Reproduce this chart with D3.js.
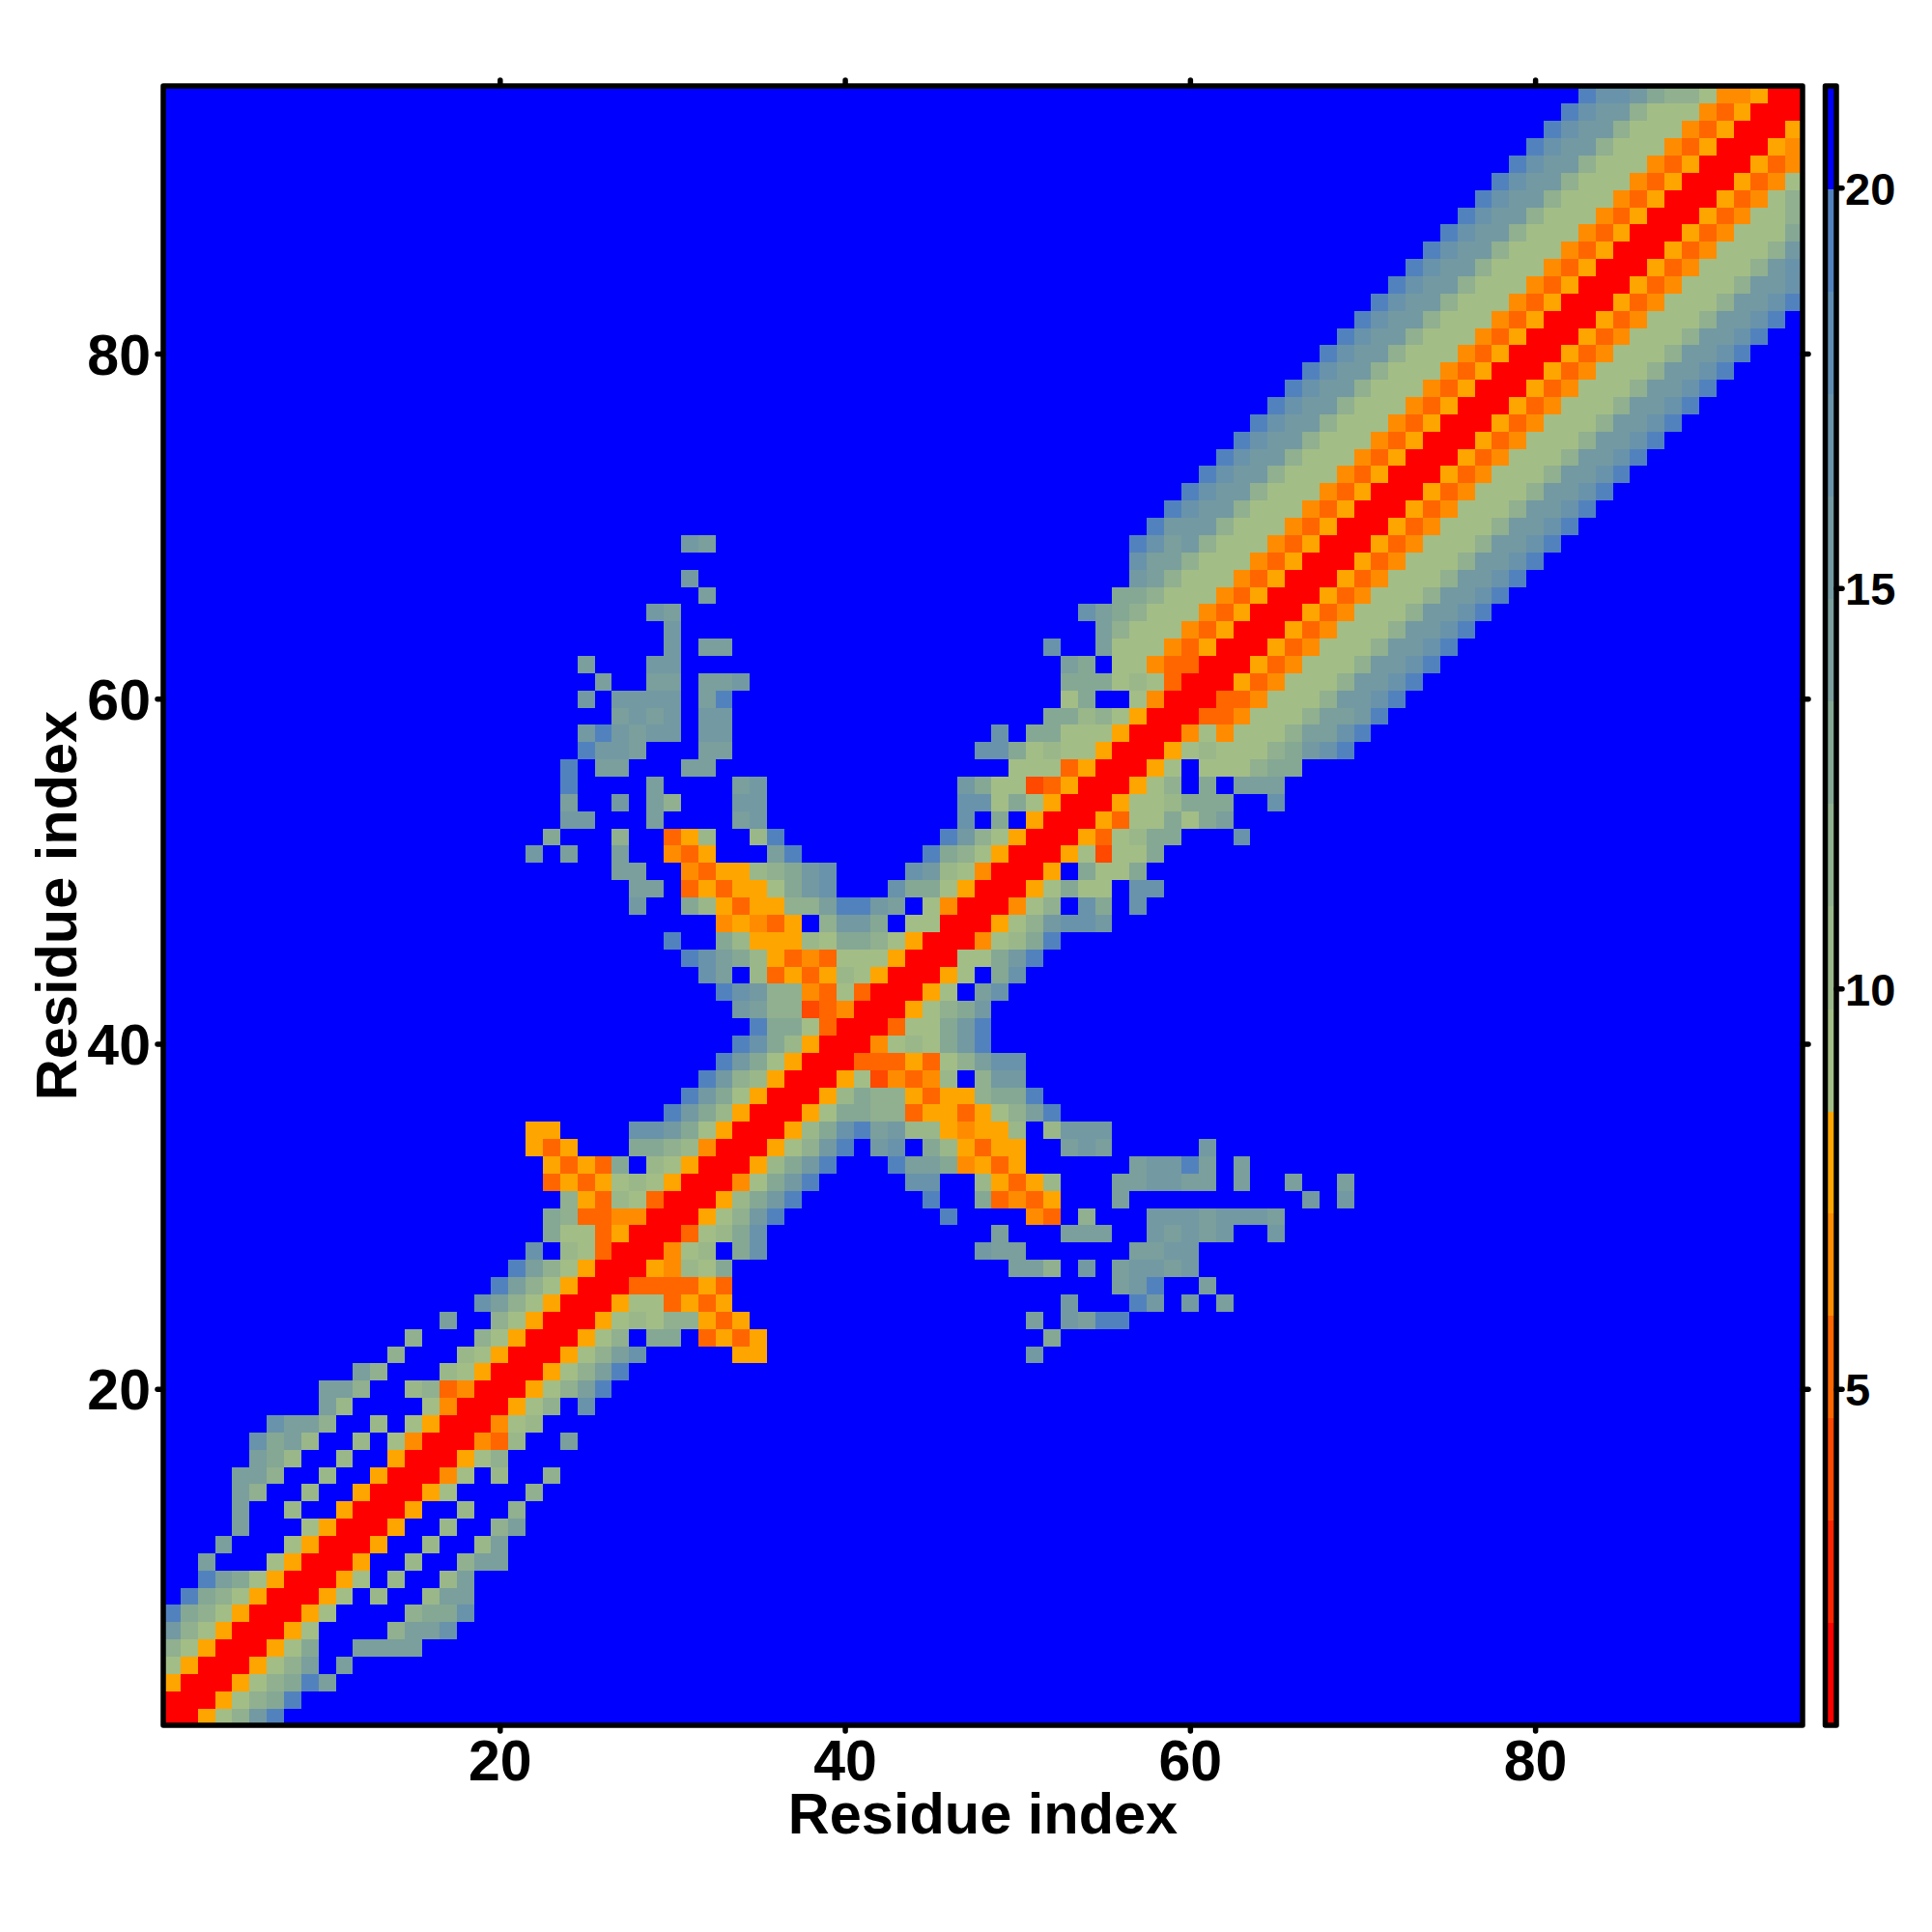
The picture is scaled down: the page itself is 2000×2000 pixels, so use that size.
<!DOCTYPE html>
<html>
<head>
<meta charset="utf-8">
<script src="https://cdn.jsdelivr.net/npm/d3@7"></script>
<style>html,body{margin:0;padding:0;background:#fff}svg{display:block}text{font-family:"Liberation Sans",Arial,sans-serif;font-weight:bold;fill:#000}</style>
</head>
<body>
<svg id="chart" width="2000" height="2000"></svg>
<script>
// Colour-bar classes (lower edge of each band, then the top)
const levelBreaks = [0.8,2.08,3.36,4.64,5.92,7.2,8.47,9.75,11.03,12.31,13.59,14.87,16.15,17.43,18.71,19.99,21.27];
const levelColors = ["#ff0000","#ff2400","#ff4800","#ff6600","#ff8c00","#ffa500",
  "#a3bd86","#9ab78a","#90b08f","#85a895","#7a9f9c","#7399a2","#6993aa","#5f8cb2","#5282be","#0000ff"];
// Distance value read for each class
const levelValues = [1.4,2.7,4,5.3,6.6,7.8,9.1,10.4,11.7,13,14.2,15.5,16.8,18.1,19.4,20.6];
const farValue = levelValues[15];
const residueCount = 95;
const xTicks = [20,40,60,80];
const barTicks = [5,10,15,20];
const axisTitle = "Residue index";

// One line per residue: "startColumn:classes" (hex class index, f = blue/no contact).
// Only the part right of the diagonal was read; the map is symmetric.
const rowReadings = [
"1:00568be","2:005689e","3:005689ea","4:00568afa","5:00569ffaaaa",
"6:0056ffff8aac","7:0056ffff899c","8:0056f7ff7aa","9:0056f7ff7a","10:005ff7ff8aa",
"11:005ff7ff7a","12:005ff7ff8a","13:005ff7ff8","14:0056ffff8","15:0046f7ff8",
"16:00568","17:00437ffa","18:00467","19:00568fc","20:00568ae",
"21:00568ae","22:00568ac 34:55 51:b","23:00568f99f3535 52:9","24:00567688535 51:a 53:baee","25:005663535 53:b 57:eb 60:b 62:a",
"26:00333353 56:abe 61:a","27:0054769 50:aa8 54:b 56:abbab","28:00467f9c 48:baa 57:aabb","29:003679c 49:a 53:aaa 58:babab 65:b","30:00568be 46:e 51:43 54:8 58:bbbabbba",
"31:00579be 45:e 48:93435 56:a 67:b 69:b","32:00469be 44:cc 48:75357 56:aabbaa 63:a 66:a 69:a","33:00579be 43:eaa94535 57:abbea 63:a","34:00568befbcf975355 53:aba 61:b","35:00579ceab7754557f7bbb",
"36:005699883553568ae","37:00579885355899e","38:005624347f8bb","39:003335368acc","40:0046769be",
"41:003669be","42:005689b","43:0056fac","44:0056f9c","45:00669be",
"46:004679e","47:00568bccb","48:00468fc9fc","49:0056966fcc","50:005f9669",
"51:00562669","52:00536799 63:c","53:0053669 69a","54:005667999 65:c","55:00568f9faaa",
"56:0056f666899","57:0056766689bce","58:004646668aace","59:003346668aabe","60:003346668bbce",
"61:005346668bbce","62:005346668bbce","63:005346668bbce","64:005346668bbce","65:005346668bbce",
"66:005346668bbce","67:005346668bbce","68:005346668bbce","69:005346668bbce","70:005346668bbce",
"71:005346668bbce","72:005346668bbce","73:005346668bbce","74:005346668bbce","75:005346668bbce",
"76:005346668bbce","77:005346668bbce","78:005346668bbce","79:005346668bbce","80:005346668bbce",
"81:005346668bbce","82:005346668bbce","83:005346668bbce","84:005346668bbc","85:005346668bc",
"86:005346668b","87:005346669","88:00534668","89:0053468","90:005346",
"91:00534","92:0054","93:005","94:00","95:0"
];

// Build the symmetric matrix from the readings
const matrix = d3.range(residueCount).map(() => new Array(residueCount).fill(farValue));
rowReadings.forEach((line, r) => {
  let col = null;
  line.split(" ").forEach(seg => {
    let codes = seg;
    if (seg.includes(":")) { const p = seg.split(":"); col = +p[0]; codes = p[1]; }
    for (const ch of codes) {
      const v = levelValues[parseInt(ch, 16)];
      matrix[r][col - 1] = v;
      matrix[col - 1][r] = v;
      col++;
    }
  });
});
const cells = [];
matrix.forEach((row, r) => row.forEach((v, c) => cells.push({x: c + 1, y: r + 1, v})));

const svg = d3.select("#chart");
const frame = {left: 169, right: 1866, top: 89, bottom: 1786};
const bar = {left: 1889.5, right: 1901};
const x = d3.scaleLinear().domain([0.5, residueCount + 0.5]).range([frame.left, frame.right]);
const y = d3.scaleLinear().domain([0.5, residueCount + 0.5]).range([frame.bottom, frame.top]);
const color = d3.scaleThreshold().domain(levelBreaks.slice(1, -1)).range(levelColors);
const barY = d3.scaleLinear().domain([levelBreaks[0], levelBreaks[levelBreaks.length - 1]]).range([frame.bottom, frame.top]);

// Cells
svg.append("g").attr("shape-rendering", "crispEdges")
  .selectAll("rect").data(cells).join("rect")
  .attr("x", d => x(d.x - 0.5))
  .attr("y", d => y(d.y + 0.5))
  .attr("width", d => x(d.x + 0.5) - x(d.x - 0.5) + 0.5)
  .attr("height", d => y(d.y - 0.5) - y(d.y + 0.5) + 0.5)
  .attr("fill", d => color(d.v));

// Colour bar bands
svg.append("g").attr("shape-rendering", "crispEdges")
  .selectAll("rect").data(levelColors).join("rect")
  .attr("x", bar.left).attr("width", bar.right - bar.left)
  .attr("y", (d, i) => barY(levelBreaks[i + 1]))
  .attr("height", (d, i) => barY(levelBreaks[i]) - barY(levelBreaks[i + 1]) + 0.5)
  .attr("fill", d => d);

function styleAxis(g) {
  g.select(".domain").remove();
  g.selectAll(".tick line").attr("stroke", "#000").attr("stroke-width", 5.5).attr("stroke-linecap", "round");
}
const tickLen = 6;
svg.append("g").attr("transform", `translate(0,${frame.bottom})`)
  .call(d3.axisBottom(x).tickValues(xTicks).tickSize(tickLen).tickFormat(d3.format("d")))
  .call(styleAxis)
  .call(g => g.selectAll("text").attr("y", 57).attr("dy", 0).attr("font-size", 59).attr("font-family", null));
svg.append("g").attr("transform", `translate(${frame.left},0)`)
  .call(d3.axisLeft(y).tickValues(xTicks).tickSize(tickLen).tickFormat(d3.format("d")))
  .call(styleAxis)
  .call(g => g.selectAll("text").attr("x", -13).attr("dy", "0.36em").attr("font-size", 59).attr("font-family", null));
svg.append("g").attr("transform", `translate(0,${frame.top})`)
  .call(d3.axisTop(x).tickValues(xTicks).tickSize(tickLen).tickFormat(""))
  .call(styleAxis);
svg.append("g").attr("transform", `translate(${frame.right},0)`)
  .call(d3.axisRight(y).tickValues(xTicks).tickSize(tickLen).tickFormat(""))
  .call(styleAxis);
svg.append("g").attr("transform", `translate(${bar.right},0)`)
  .call(d3.axisRight(barY).tickValues(barTicks).tickSize(tickLen).tickFormat(d3.format("d")))
  .call(styleAxis)
  .call(g => g.selectAll("text").attr("x", 9).attr("dy", "0.36em").attr("font-size", 47).attr("font-family", null));

// Frames
svg.append("rect").attr("x", frame.left).attr("y", frame.top)
  .attr("width", frame.right - frame.left).attr("height", frame.bottom - frame.top)
  .attr("fill", "none").attr("stroke", "#000").attr("stroke-width", 5.5).attr("stroke-linejoin", "round");
svg.append("rect").attr("x", bar.left).attr("y", frame.top)
  .attr("width", bar.right - bar.left).attr("height", frame.bottom - frame.top)
  .attr("fill", "none").attr("stroke", "#000").attr("stroke-width", 5.5).attr("stroke-linejoin", "round");

// Titles
svg.append("text").attr("x", (frame.left + frame.right) / 2).attr("y", 1898)
  .attr("text-anchor", "middle").attr("font-size", 59.5).text(axisTitle);
svg.append("text").attr("transform", `translate(79,${(frame.top + frame.bottom) / 2}) rotate(-90)`)
  .attr("text-anchor", "middle").attr("font-size", 59.5).text(axisTitle);
</script>
</body>
</html>
